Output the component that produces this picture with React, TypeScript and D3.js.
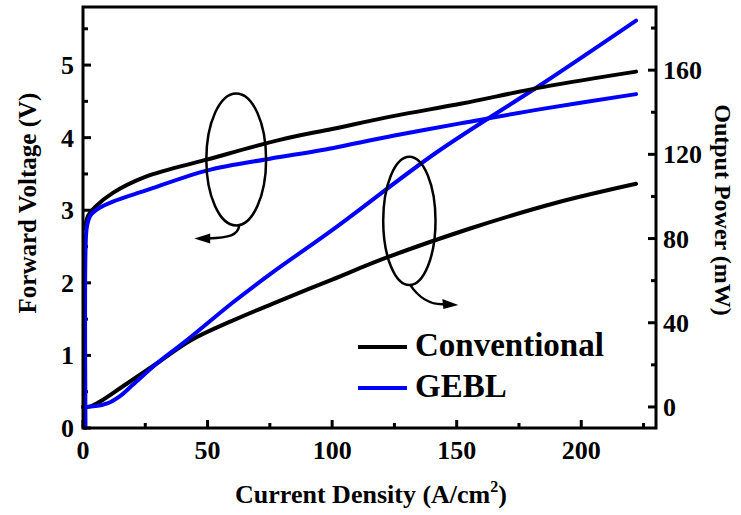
import React from "react";
import * as d3 from "d3";

// ---------- data ----------
const convVoltJ = [0.8, 2, 5, 12, 25, 50, 79, 100, 125, 152, 185, 222];
const convVoltV = [2.75, 2.92, 3.05, 3.24, 3.46, 3.7, 3.97, 4.12, 4.3, 4.47, 4.7, 4.91];
const geblVoltJ = [1, 1.05, 1.6, 3, 6, 12, 25, 50, 75, 96, 125, 152, 185, 222];
const geblVoltV = [0, 2.5, 2.78, 2.93, 3.02, 3.12, 3.27, 3.55, 3.71, 3.83, 4.03, 4.2, 4.4, 4.6];
const convPowJ = [0, 3, 7, 15, 30, 43, 60, 76, 100, 122, 156, 190, 222];
const convPowP = [0, 0.3, 2.7, 9, 21, 31.5, 41, 49, 60.5, 71, 85, 97, 106];
const geblPowJ = [0, 5, 10, 15, 20, 30, 42, 60, 75, 100, 142, 185, 222];
const geblPowP = [0, 0.4, 1.8, 5.3, 10.5, 21, 32, 49.5, 63, 84, 121, 154, 183.5];

const xTicks = [0, 50, 100, 150, 200];
const xMinor = [25, 75, 125, 175, 225];
const vTicks = [0, 1, 2, 3, 4, 5];
const vMinor = [0.5, 1.5, 2.5, 3.5, 4.5, 5.5];
const pTicks = [0, 40, 80, 120, 160];
const pMinor = [20, 60, 100, 140, 180];

const seriesNames = ["Conventional", "GEBL"];
const seriesColors = ["#000000", "#0000ff"];

// ---------- layout ----------
const W = 741, H = 515;
const L = 83, R = 656, T = 7, B = 428;
const FONT = "'Liberation Serif', 'Times New Roman', serif";

export default function App() {
  const x = d3.scaleLinear().domain([0, 230]).range([L, R]);
  const yV = d3.scaleLinear().domain([0, 5.8]).range([B, T]);
  const yP = d3.scaleLinear().domain([-10, 190]).range([B, T]);

  const mk = (xs: number[], ys: number[], ys2: d3.ScaleLinear<number, number>) =>
    d3
      .line<number>()
      .x((_, i) => x(xs[i]))
      .y((d) => ys2(d))
      .curve(d3.curveCatmullRom.alpha(0.5))(ys) || "";

  const lines = [
    { d: mk(convPowJ, convPowP, yP), c: seriesColors[0] },
    { d: mk(geblPowJ, geblPowP, yP), c: seriesColors[1] },
    { d: mk(convVoltJ, convVoltV, yV), c: seriesColors[0] },
    { d: mk(geblVoltJ, geblVoltV, yV), c: seriesColors[1] },
  ];

  // annotation ellipses (data units)
  const e1 = { cx: x(61.5), cy: yV(3.7), rx: x(61.5 + 12) - x(61.5), ry: yV(3.7) - yV(3.7 + 0.91) };
  const e2 = { cx: x(131), cy: yP(88.4), rx: x(131 + 10.5) - x(131), ry: yP(88.4) - yP(88.4 + 30.5) };

  const b1x = e1.cx + 3, b1y = e1.cy + e1.ry;
  const tip1x = b1x - 45, tip1y = b1y + 13;
  const b2x = e2.cx + 1, b2y = e2.cy + e2.ry;
  const tip2x = b2x + 48, tip2y = b2y + 20;

  const tickW = 3;
  return (
    <svg
      width={W}
      height={H}
      style={{ position: "absolute", left: 0, top: 0, background: "#fff" }}
      fontFamily={FONT}
      fontWeight="bold"
    >
      <rect width={W} height={H} fill="#fff" />
      {/* ticks bottom */}
      {xTicks.map((t) => (
        <line key={"xt" + t} x1={x(t)} x2={x(t)} y1={B} y2={B - 8} stroke="#000" strokeWidth={tickW} />
      ))}
      {xMinor.map((t) => (
        <line key={"xm" + t} x1={x(t)} x2={x(t)} y1={B} y2={B - 5} stroke="#000" strokeWidth={tickW} />
      ))}
      {vTicks.map((t) => (
        <line key={"vt" + t} x1={L} x2={L + 8} y1={yV(t)} y2={yV(t)} stroke="#000" strokeWidth={tickW} />
      ))}
      {vMinor.map((t) => (
        <line key={"vm" + t} x1={L} x2={L + 5} y1={yV(t)} y2={yV(t)} stroke="#000" strokeWidth={tickW} />
      ))}
      {pTicks.map((t) => (
        <line key={"pt" + t} x1={R} x2={R - 8} y1={yP(t)} y2={yP(t)} stroke="#000" strokeWidth={tickW} />
      ))}
      {pMinor.map((t) => (
        <line key={"pm" + t} x1={R} x2={R - 5} y1={yP(t)} y2={yP(t)} stroke="#000" strokeWidth={tickW} />
      ))}

      {/* curves */}
      {lines.map((l, i) => (
        <path key={"l" + i} d={l.d} fill="none" stroke={l.c} strokeWidth={4} strokeLinejoin="round" strokeLinecap="round" />
      ))}

      {/* annotations */}
      <ellipse cx={e1.cx} cy={e1.cy} rx={e1.rx} ry={e1.ry} fill="none" stroke="#000" strokeWidth={2.5} />
      <path
        d={`M${b1x},${b1y} C${b1x - 1},${b1y + 10} ${b1x - 10},${b1y + 12} ${tip1x + 14},${tip1y}`}
        fill="none"
        stroke="#000"
        strokeWidth={2.5}
      />
      <path d={`M${tip1x},${tip1y} L${tip1x + 16},${tip1y - 5} L${tip1x + 16},${tip1y + 5} Z`} fill="#000" />

      <ellipse cx={e2.cx} cy={e2.cy} rx={e2.rx} ry={e2.ry} fill="none" stroke="#000" strokeWidth={2.5} />
      <path
        d={`M${b2x},${b2y} C${b2x + 8},${b2y + 12} ${b2x + 20},${tip2y} ${tip2x - 14},${tip2y - 1}`}
        fill="none"
        stroke="#000"
        strokeWidth={2.5}
      />
      <path d={`M${tip2x},${tip2y} L${tip2x - 16},${tip2y - 6} L${tip2x - 15},${tip2y + 4} Z`} fill="#000" />

      {/* frame */}
      <rect x={L} y={T} width={R - L} height={B - T} fill="none" stroke="#000" strokeWidth={3} />

      {/* tick labels */}
      {xTicks.map((t) => (
        <text key={"xl" + t} x={x(t)} y={B + 31} textAnchor="middle" fontSize={26}>
          {t}
        </text>
      ))}
      {vTicks.map((t) => (
        <text key={"vl" + t} x={L - 9} y={yV(t) + 9} textAnchor="end" fontSize={26}>
          {t}
        </text>
      ))}
      {pTicks.map((t) => (
        <text key={"pl" + t} x={R + 7} y={yP(t) + 9} textAnchor="start" fontSize={26}>
          {t}
        </text>
      ))}

      {/* axis titles */}
      <text x={371} y={503} textAnchor="middle" fontSize={26}>
        Current Density (A/cm
        <tspan fontSize={16} dy={-11}>2</tspan>
        <tspan dy={11}>)</tspan>
      </text>
      <text transform={`translate(36,203) rotate(-90)`} textAnchor="middle" fontSize={25}>
        Forward Voltage (V)
      </text>
      <text transform={`translate(715,210) rotate(90)`} textAnchor="middle" fontSize={24}>
        Output Power (mW)
      </text>

      {/* legend */}
      {seriesNames.map((n, i) => (
        <g key={n}>
          <line x1={358} x2={407} y1={347 + i * 41} y2={347 + i * 41} stroke={seriesColors[i]} strokeWidth={4} />
          <text x={415} y={356 + i * 41} fontSize={33}>
            {n}
          </text>
        </g>
      ))}
    </svg>
  );
}
